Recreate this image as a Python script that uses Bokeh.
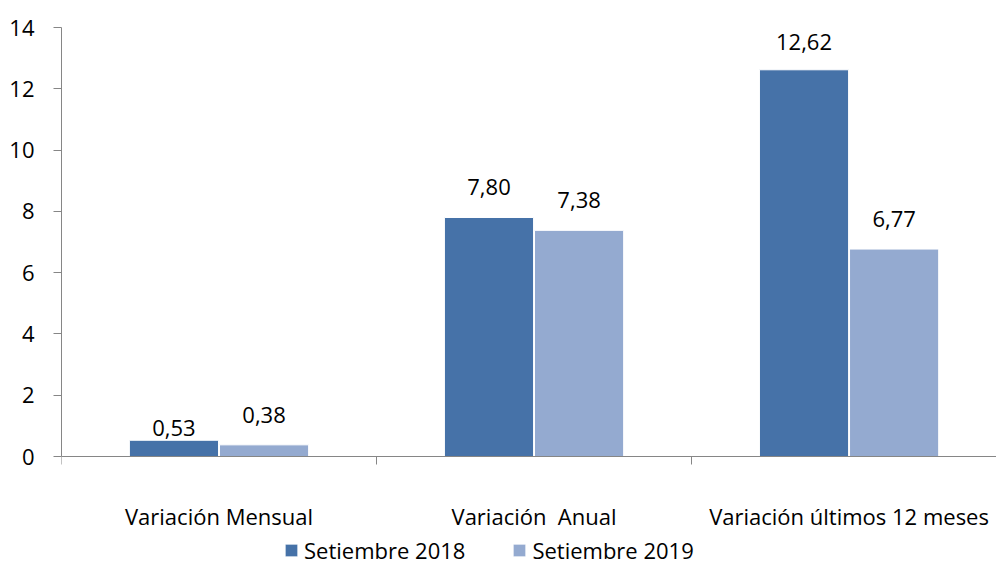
from bokeh.plotting import figure
from bokeh.models import ColumnDataSource, FixedTicker, Legend, LegendItem, Range1d
from bokeh.core.properties import value
from bokeh.embed import file_html
from bokeh.resources import INLINE

categories = ["Variación Mensual", "Variación  Anual", "Variación últimos 12 meses"]
series_names = ["Setiembre 2018", "Setiembre 2019"]
values_2018 = [0.53, 7.80, 12.62]
values_2019 = [0.38, 7.38, 6.77]
y_ticks = [0, 2, 4, 6, 8, 10, 12, 14]

FONT = "Open Sans"
FS = "22px"
DARK = "#4672A8"
LIGHT = "#94AAD0"
AXIS_GRAY = "#868686"

BAR_W = 0.283
OFFS = [-0.143, 0.143]
label_dy_2018 = [-12, -30, -28]
label_dy_2019 = [-30, -30, -30]

centers = [i + 0.5 for i in range(len(categories))]

def fmt(v):
    return f"{v:.2f}".replace(".", ",")

def keep_spaces(s):
    return s.replace("  ", " \u00a0")

src18 = ColumnDataSource(dict(x=[c + OFFS[0] for c in centers], top=values_2018,
                              text=[fmt(v) for v in values_2018], dy=label_dy_2018))
src19 = ColumnDataSource(dict(x=[c + OFFS[1] for c in centers], top=values_2019,
                              text=[fmt(v) for v in values_2019], dy=label_dy_2019))

# frame extends below zero so that category labels and legend sit inside the canvas
p = figure(frame_width=935, frame_height=538, output_backend="svg", toolbar_location=None,
           x_range=Range1d(0, 2.968), y_range=Range1d(-3.557, 14),
           min_border_left=61, min_border_right=0, min_border_top=27, min_border_bottom=0)
p.outline_line_color = None
p.xgrid.visible = False
p.ygrid.visible = False
p.background_fill_color = "white"
p.border_fill_color = "white"

r18 = p.vbar(x="x", top="top", bottom=0, width=BAR_W, source=src18, fill_color=DARK, line_color="white", line_width=1)
r19 = p.vbar(x="x", top="top", bottom=0, width=BAR_W, source=src19, fill_color=LIGHT, line_color="white", line_width=1)

for s in (src18, src19):
    p.text(x="x", y="top", text="text", y_offset="dy", source=s,
           text_font=value(FONT), text_font_size=FS, text_color="black",
           text_align="center", text_baseline="middle")

# y axis
ya = p.yaxis[0]
ya.ticker = FixedTicker(ticks=y_ticks, minor_ticks=[])
ya.bounds = (0, 14)
ya.axis_line_color = AXIS_GRAY
ya.major_tick_line_color = AXIS_GRAY
ya.major_tick_out = 8
ya.major_tick_in = 0
ya.minor_tick_line_color = None
ya.major_label_standoff = 19
ya.major_label_text_font = FONT
ya.major_label_text_font_size = FS
ya.major_label_text_color = "black"

# x axis at y = 0
xa = p.xaxis[0]
xa.fixed_location = 0
xa.ticker = FixedTicker(ticks=centers, minor_ticks=list(range(len(categories) + 1)))
xa.major_label_overrides = {c: keep_spaces(cat) for c, cat in zip(centers, categories)}
xa.axis_line_color = AXIS_GRAY
xa.major_tick_line_color = None
xa.major_tick_out = 0
xa.major_tick_in = 0
xa.minor_tick_line_color = AXIS_GRAY
xa.minor_tick_out = 8
xa.minor_tick_in = 0
xa.major_label_standoff = 36
xa.major_label_text_font = FONT
xa.major_label_text_font_size = FS
xa.major_label_text_color = "black"

legend = Legend(items=[LegendItem(label=series_names[0], renderers=[r18]),
                       LegendItem(label=series_names[1], renderers=[r19])],
                orientation="horizontal", location=(222, 0),
                glyph_width=16, glyph_height=16, label_standoff=5, spacing=46,
                padding=0, margin=0, border_line_color=None, background_fill_alpha=0,
                label_text_font=FONT, label_text_font_size=FS, label_text_color="black")
p.add_layout(legend, "center")

open("out.html", "w").write(file_html(p, INLINE))
